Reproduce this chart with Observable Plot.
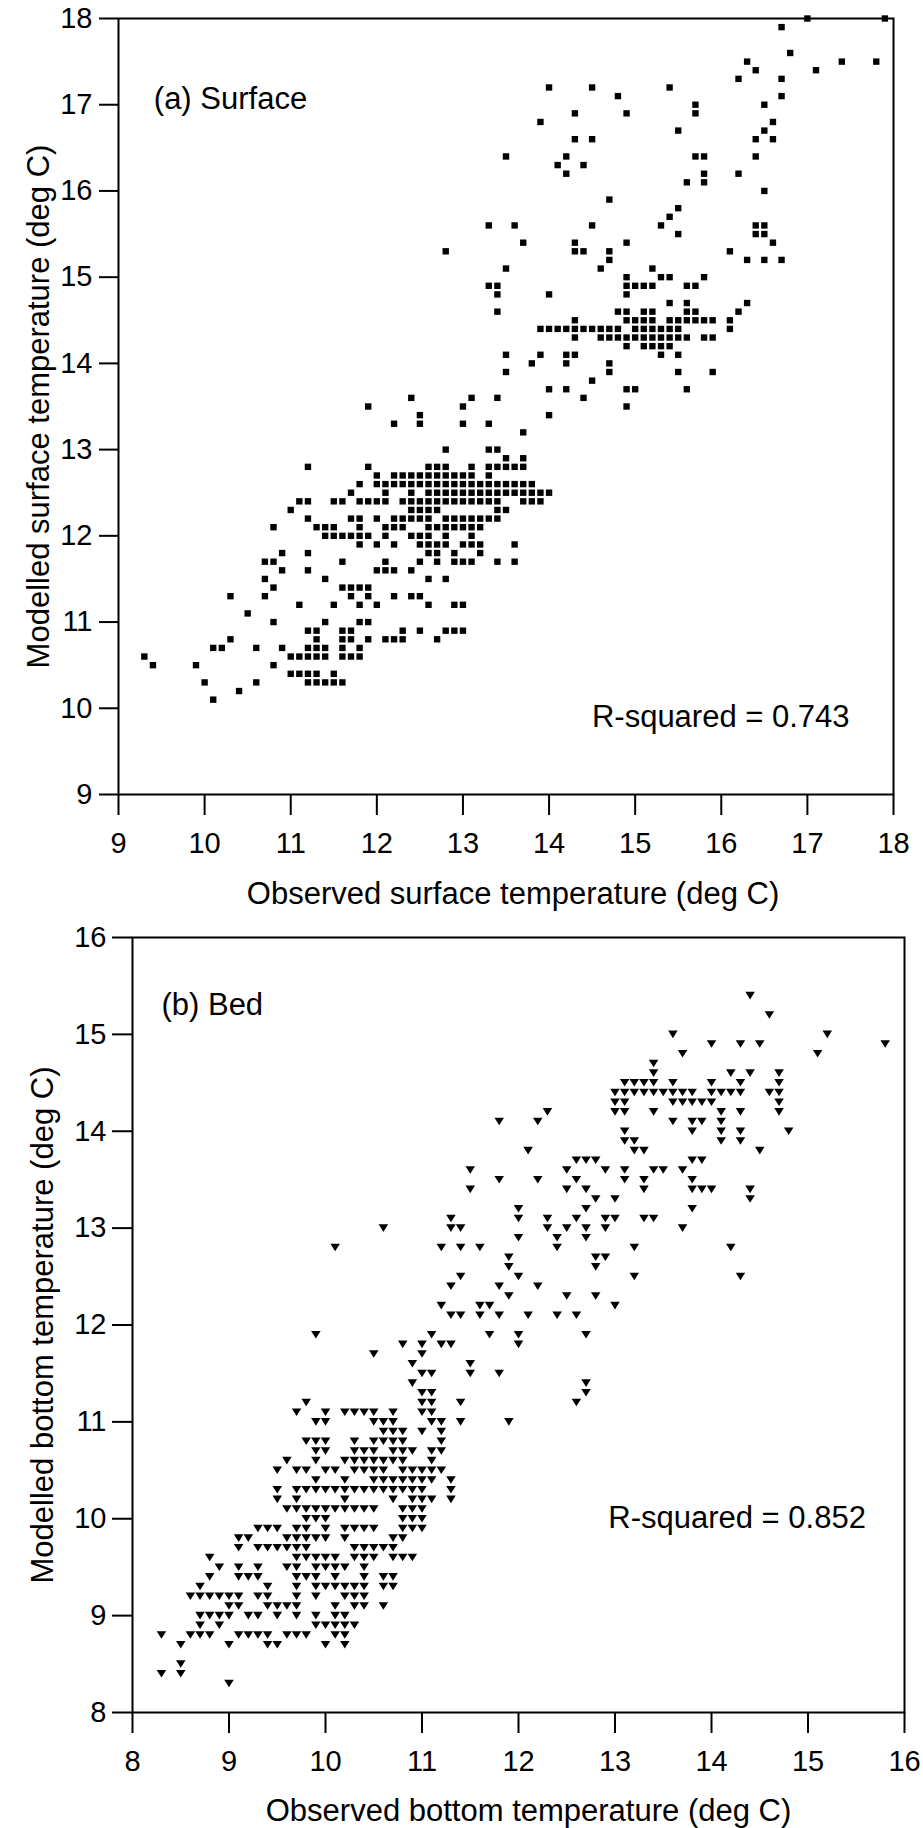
<!DOCTYPE html>
<html><head><meta charset="utf-8">
<script src="https://cdn.jsdelivr.net/npm/d3@7"></script>
<script src="https://cdn.jsdelivr.net/npm/@observablehq/plot@0.6"></script>
<style>
html,body{margin:0;padding:0;background:#fff;}
#chart{width:923px;}
#chart svg{display:block;}
</style></head><body><div id="chart"></div>
<script>
// ---- Data (modelled y, list of observed x values on that row) ----
const surfaceRows = [
[18.0,[17.0,17.9]],[17.9,[16.7]],[17.6,[16.8]],[17.5,[16.3,17.4,17.8]],[17.4,[16.4,17.1]],
[17.3,[16.2,16.7]],[17.2,[14.0,14.5,15.4]],[17.1,[14.8,16.7]],[17.0,[15.7,16.5]],
[16.9,[14.3,14.9,15.7]],[16.8,[13.9,16.6]],[16.7,[15.5,16.5]],[16.6,[14.3,14.5,16.4,16.6]],
[16.4,[13.5,14.2,15.7,15.8,16.4]],[16.3,[14.1,14.4]],[16.2,[14.2,15.8,16.2]],[16.1,[15.6,15.8]],
[16.0,[16.5]],[15.9,[14.7]],[15.8,[15.5]],[15.7,[15.4]],[15.6,[13.3,13.6,14.5,15.3,16.4,16.5]],
[15.5,[15.5,16.4,16.5]],[15.4,[13.7,14.3,14.9,16.6]],[15.3,[12.8,14.3,14.4,14.7,16.1]],
[15.2,[14.7,16.3,16.5,16.7]],[15.1,[13.5,14.6,15.2]],[15.0,[14.9,15.3,15.4,15.8]],
[14.9,[13.3,13.4,14.9,15.0,15.1,15.2,15.6,15.7]],[14.8,[13.4,14.0,14.9]],[14.7,[15.4,15.6,16.3]],
[14.6,[13.4,14.8,14.9,15.1,15.2,15.6,15.7,16.2]],
[14.5,[14.3,14.9,15.0,15.1,15.2,15.4,15.5,15.6,15.7,15.8,15.9,16.1]],
[14.4,[13.9,14.0,14.1,14.2,14.3,14.4,14.5,14.6,14.7,14.8,15.0,15.1,15.2,15.3,15.4,15.5,16.1]],
[14.3,[14.3,14.6,14.7,14.8,14.9,15.0,15.1,15.2,15.3,15.4,15.5,15.6,15.8,15.9]],
[14.2,[14.9,15.1,15.2,15.3,15.4]],[14.1,[13.5,13.9,14.2,14.3,15.3,15.5]],[14.0,[13.8,14.2,14.7]],
[13.9,[13.5,14.7,15.5,15.9]],[13.8,[14.5]],[13.7,[14.0,14.2,14.9,15.0,15.6]],
[13.6,[12.4,13.1,13.4,14.4]],[13.5,[11.9,13.0,14.9]],[13.4,[12.5,14.0]],[13.3,[12.2,12.5,13.0,13.3]],
[13.2,[13.7]],[13.0,[12.8,13.3,13.4]],[12.9,[13.5,13.7]],
[12.8,[11.2,11.9,12.6,12.7,12.8,13.1,13.3,13.4,13.5,13.6,13.7]],
[12.7,[12.0,12.2,12.3,12.4,12.5,12.6,12.7,12.8,12.9,13.0,13.1,13.3]],
[12.6,[11.8,12.0,12.1,12.2,12.3,12.4,12.5,12.6,12.7,12.8,12.9,13.0,13.1,13.2,13.3,13.4,13.5,13.6,13.7,13.8]],
[12.5,[11.7,12.1,12.4,12.6,12.7,12.8,12.9,13.0,13.1,13.2,13.3,13.4,13.5,13.6,13.7,13.8,13.9,14.0]],
[12.4,[11.1,11.2,11.5,11.6,11.8,11.9,12.0,12.1,12.3,12.4,12.5,12.6,12.7,12.8,12.9,13.0,13.1,13.2,13.3,13.4,13.7,13.8,13.9]],
[12.3,[11.0,12.4,12.5,12.6,12.7,13.4,13.5]],
[12.2,[11.2,11.7,11.8,12.0,12.2,12.3,12.4,12.5,12.6,12.8,12.9,13.0,13.1,13.2,13.3,13.4]],
[12.1,[10.8,11.3,11.4,11.5,11.8,12.1,12.2,12.3,12.6,12.7,12.8,12.9,13.0,13.1,13.2]],
[12.0,[11.4,11.5,11.6,11.7,11.8,11.9,12.1,12.4,12.5,12.6,12.8,13.1]],
[11.9,[11.8,12.0,12.2,12.5,12.6,12.7,12.8,13.0,13.1,13.2,13.6]],
[11.8,[10.9,11.2,12.6,12.7,12.9,13.2]],
[11.7,[10.7,10.8,11.6,12.1,12.5,12.7,12.9,13.0,13.1,13.4,13.6]],
[11.6,[10.9,11.2,12.0,12.1,12.2,12.4]],[11.5,[10.7,11.4,12.6,12.8]],[11.4,[10.8,11.6,11.7,11.8,11.9]],
[11.3,[10.3,10.7,11.7,11.9,12.2,12.4,12.5]],[11.2,[11.1,11.5,11.8,12.0,12.6,12.9,13.0]],
[11.1,[10.5]],[11.0,[10.8,11.4,11.8,11.9]],
[10.9,[11.2,11.3,11.6,11.7,12.3,12.5,12.8,12.9,13.0]],
[10.8,[10.3,11.3,11.6,11.7,11.9,12.1,12.2,12.3,12.7]],
[10.7,[10.1,10.2,10.6,10.9,11.2,11.3,11.4,11.6,11.8]],
[10.6,[9.3,11.0,11.1,11.2,11.3,11.4,11.6,11.7,11.8]],
[10.5,[9.4,9.9,10.8]],[10.4,[11.0,11.1,11.2,11.3,11.5]],[10.3,[10.0,10.6,11.2,11.3,11.4,11.5,11.6]],
[10.2,[10.4]],[10.1,[10.1]]
];

const bedRows = [
[15.4,[14.4]],[15.2,[14.6]],[15.0,[13.6,15.2]],[14.9,[14.0,14.3,14.5,15.8]],[14.8,[13.7,15.1]],
[14.7,[13.4]],[14.6,[13.4,14.2,14.4,14.7]],[14.5,[13.1,13.2,13.3,13.4,13.6,14.0,14.3,14.7]],
[14.4,[13.0,13.1,13.2,13.3,13.4,13.5,13.6,13.7,13.8,14.0,14.1,14.2,14.3,14.6,14.7]],
[14.3,[13.0,13.1,13.6,13.7,13.8,13.9,14.0,14.7]],[14.2,[12.3,13.0,13.1,13.4,14.1,14.3,14.7]],
[14.1,[11.8,12.2,13.6,13.8,13.9,14.1]],[14.0,[13.1,13.8,14.1,14.3,14.8]],[13.9,[13.1,13.2,14.1,14.3]],
[13.8,[12.1,13.2,13.3,14.5]],[13.7,[12.6,12.7,12.8,13.8,13.9]],[13.6,[11.5,12.5,12.9,13.1,13.4,13.5,13.7]],
[13.5,[11.8,12.2,12.6,13.1,13.3,13.8]],[13.4,[11.5,12.5,12.7,13.3,13.8,13.9,14.0,14.4]],
[13.3,[12.8,13.0,14.4]],[13.2,[12.0,12.7,13.8]],[13.1,[11.3,12.0,12.3,12.6,12.9,13.0,13.3,13.4]],
[13.0,[10.6,11.3,11.4,12.3,12.5,12.7,12.9,13.7]],[12.9,[12.0,12.4,12.7]],
[12.8,[10.1,11.2,11.4,11.6,12.4,13.2,14.2]],[12.7,[11.9,12.8,12.9]],[12.6,[11.9,12.8]],
[12.5,[11.4,12.0,13.2,14.3]],[12.4,[11.3,11.8,12.2]],[12.3,[11.9,12.5,12.8]],[12.2,[11.2,11.6,11.7,13.0]],
[12.1,[11.3,11.4,11.6,11.8,12.1,12.4,12.6]],[11.9,[9.9,11.1,11.7,12.0,12.7]],
[11.8,[10.8,11.0,11.2,11.3,12.0]],[11.7,[10.5,11.0]],[11.6,[10.9,11.5]],[11.5,[11.0,11.1,11.5,11.8]],
[11.4,[10.9,12.7]],[11.3,[11.0,11.1,12.7]],[11.2,[9.8,11.0,11.1,11.4,12.6]],
[11.1,[9.7,10.0,10.2,10.3,10.4,10.5,10.7,11.0,11.1]],
[11.0,[9.9,10.0,10.5,10.6,10.7,11.1,11.2,11.4,11.9]],
[10.9,[10.6,10.7,10.8,11.0,11.2]],
[10.8,[9.8,9.9,10.0,10.3,10.5,10.6,10.7,10.8,11.2]],
[10.7,[9.9,10.0,10.3,10.4,10.5,10.7,10.8,10.9,11.1,11.2]],
[10.6,[9.6,9.9,10.2,10.3,10.4,10.5,10.6,10.7,10.8,11.1]],
[10.5,[9.5,9.7,9.8,10.0,10.1,10.3,10.4,10.5,10.6,10.8,10.9,11.0,11.1,11.2]],
[10.4,[9.9,10.2,10.5,10.6,10.7,10.8,10.9,11.0,11.1,11.3]],
[10.3,[9.5,9.7,9.8,9.9,10.0,10.1,10.2,10.3,10.4,10.5,10.6,10.7,10.8,10.9,11.0,11.3]],
[10.2,[9.5,9.7,10.2,10.7,10.9,11.0,11.1,11.3]],
[10.1,[9.6,9.7,9.8,9.9,10.0,10.1,10.2,10.3,10.4,10.5,10.8,10.9,11.0]],
[10.0,[9.8,9.9,10.0,10.8,10.9,11.0]],
[9.9,[9.3,9.4,9.5,9.7,9.8,10.0,10.2,10.3,10.4,10.5,10.8,10.9,11.0]],
[9.8,[9.1,9.2,9.6,9.7,9.8,9.9,10.0,10.2,10.7,10.8]],
[9.7,[9.1,9.3,9.4,9.5,9.6,9.7,9.8,10.3,10.4,10.5,10.6,10.7]],
[9.6,[8.8,9.7,9.8,9.9,10.0,10.1,10.3,10.4,10.5,10.7,10.8,10.9]],
[9.5,[8.9,9.1,9.3,9.6,9.7,9.9,10.0,10.1,10.2,10.4]],
[9.4,[8.8,9.1,9.2,9.3,9.7,9.8,9.9,10.1,10.4,10.6,10.7]],
[9.3,[8.7,9.4,9.7,9.9,10.0,10.1,10.2,10.3,10.4,10.6,10.7]],
[9.2,[8.6,8.7,8.8,8.9,9.0,9.1,9.3,9.4,9.7,9.9,10.2,10.3,10.4]],
[9.1,[9.0,9.1,9.4,9.5,9.6,9.7,10.1,10.3,10.4,10.6]],
[9.0,[8.7,8.8,8.9,9.0,9.2,9.3,9.5,9.7,9.9,10.1,10.2]],
[8.9,[8.7,8.9,9.9,10.0,10.1,10.2,10.3]],
[8.8,[8.3,8.6,8.7,8.8,9.1,9.2,9.3,9.4,9.6,9.7,9.8,10.1,10.2]],
[8.7,[8.5,9.0,9.4,9.5,10.0,10.2]],
[8.5,[8.5]],[8.4,[8.3,8.5]],[8.3,[9.0]]
];

const surfaceTicks = [9,10,11,12,13,14,15,16,17,18];
const bedTicks = [8,9,10,11,12,13,14,15,16];
const surfaceXLabel = "Observed surface temperature (deg C)";
const surfaceYLabel = "Modelled surface temperature (deg C)";
const bedXLabel = "Observed bottom temperature (deg C)";
const bedYLabel = "Modelled bottom temperature (deg C)";
const surfaceTag = "(a) Surface";
const bedTag = "(b) Bed";
const surfaceR2 = "R-squared = 0.743";
const bedR2 = "R-squared = 0.852";

// ---- build ----
const surfacePoints = surfaceRows.flatMap(([y, xs]) => xs.map(x => ({observed: x, modelled: y})));
const bedPoints = bedRows.flatMap(([y, xs]) => xs.map(x => ({observed: x, modelled: y})));

const FONT = "'Liberation Sans', Arial, Helvetica, sans-serif";
const downTriangle = {
  draw(ctx, size) {
    const r = Math.sqrt(size / Math.PI);
    ctx.moveTo(-1.19 * r, -0.94 * r);
    ctx.lineTo(1.19 * r, -0.94 * r);
    ctx.lineTo(0, 0.94 * r);
    ctx.closePath();
  }
};

const surfaceChart = Plot.plot({
  width: 923, height: 918,
  marginTop: 18, marginBottom: 124, marginLeft: 118, marginRight: 30,
  x: {domain: [9, 18]},
  y: {domain: [9, 18]},
  style: {fontFamily: FONT, fontSize: "29px", color: "black", background: "white"},
  marks: [
    Plot.axisX({ticks: surfaceTicks, tickSize: 21, tickPadding: 17, strokeWidth: 2, label: null, fontSize: 29}),
    Plot.axisY({ticks: surfaceTicks, tickSize: 19, tickPadding: 7, strokeWidth: 2, label: null, fontSize: 29}),
    Plot.dot(surfacePoints, {x: "observed", y: "modelled", symbol: "square", r: 3.6, fill: "black", stroke: "none"}),
    Plot.frame({stroke: "black", strokeWidth: 2}),
    Plot.text([surfaceXLabel], {text: d => d, frameAnchor: "bottom", dx: 7, dy: 109, textAnchor: "middle", lineAnchor: "bottom", fontSize: 31}),
    Plot.text([surfaceYLabel], {text: d => d, frameAnchor: "left", dx: -70, rotate: -90, textAnchor: "middle", lineAnchor: "bottom", fontSize: 31}),
    Plot.text([surfaceTag], {text: d => d, x: () => 9.41, y: () => 16.95, textAnchor: "start", lineAnchor: "bottom", fontSize: 31}),
    Plot.text([surfaceR2], {text: d => d, x: () => 17.49, y: () => 9.78, textAnchor: "end", lineAnchor: "bottom", fontSize: 31})
  ]
});

const bedChart = Plot.plot({
  width: 923, height: 910,
  marginTop: 19, marginBottom: 116, marginLeft: 132, marginRight: 19,
  x: {domain: [8, 16]},
  y: {domain: [8, 16]},
  style: {fontFamily: FONT, fontSize: "29px", color: "black", background: "white"},
  marks: [
    Plot.axisX({ticks: bedTicks, tickSize: 21, tickPadding: 17, strokeWidth: 2, label: null, fontSize: 29}),
    Plot.axisY({ticks: bedTicks, tickSize: 20, tickPadding: 6, strokeWidth: 2, label: null, fontSize: 29}),
    Plot.dot(bedPoints, {x: "observed", y: "modelled", symbol: downTriangle, r: 4, fill: "black", stroke: "none"}),
    Plot.frame({stroke: "black", strokeWidth: 2}),
    Plot.text([bedXLabel], {text: d => d, frameAnchor: "bottom", dx: 10, dy: 108, textAnchor: "middle", lineAnchor: "bottom", fontSize: 31}),
    Plot.text([bedYLabel], {text: d => d, frameAnchor: "left", dx: -80, rotate: -90, textAnchor: "middle", lineAnchor: "bottom", fontSize: 31}),
    Plot.text([bedTag], {text: d => d, x: () => 8.3, y: () => 15.2, textAnchor: "start", lineAnchor: "bottom", fontSize: 31}),
    Plot.text([bedR2], {text: d => d, x: () => 15.6, y: () => 9.9, textAnchor: "end", lineAnchor: "bottom", fontSize: 31})
  ]
});

const chartDiv = document.getElementById("chart");
chartDiv.appendChild(surfaceChart);
chartDiv.appendChild(bedChart);
</script>
</body></html>
